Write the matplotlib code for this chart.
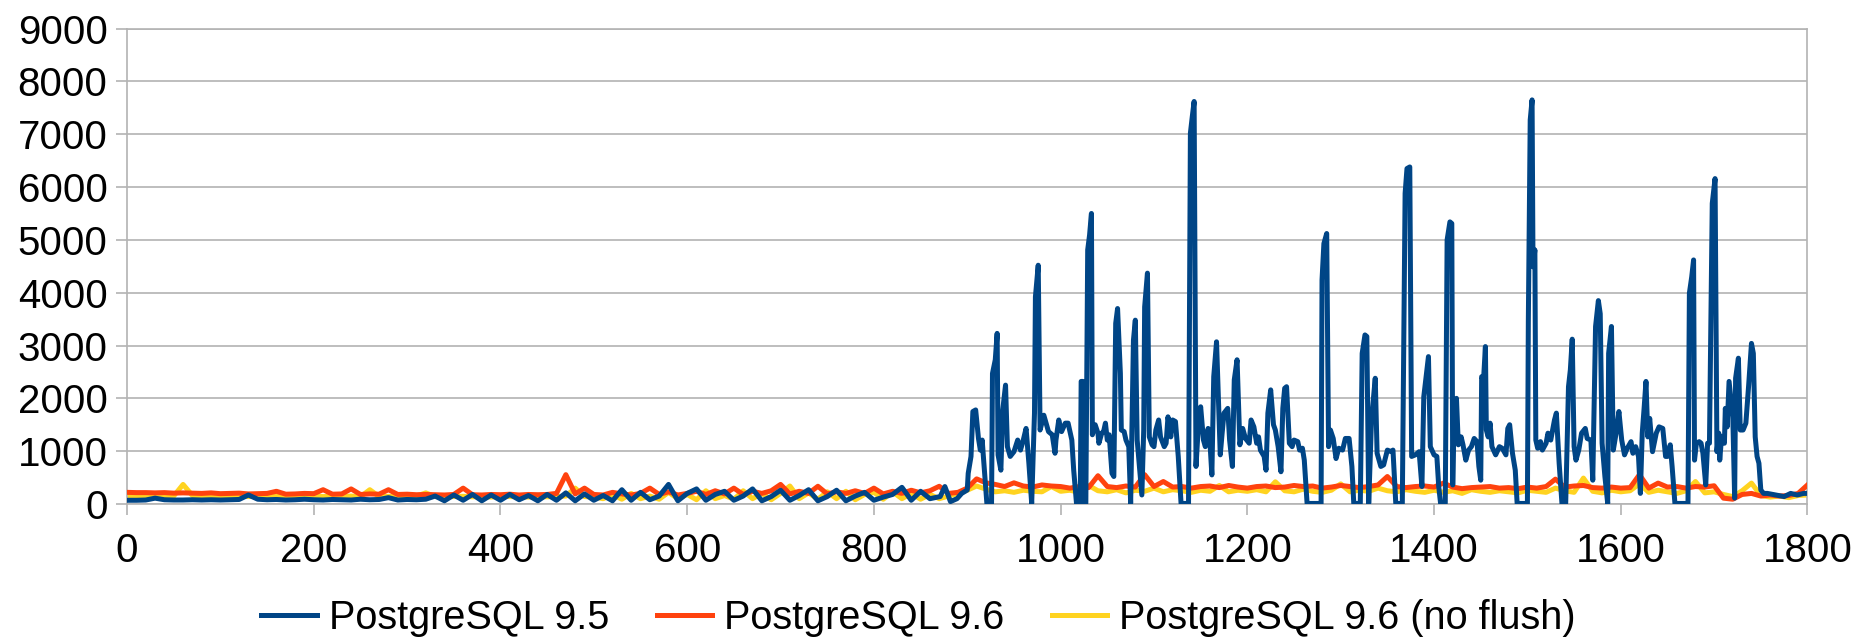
import matplotlib
matplotlib.use("Agg")
import matplotlib.pyplot as plt

plt.rcParams['font.family'] = ['Liberation Sans', 'DejaVu Sans']

# sample step for the orange / yellow series and the quiet part of 9.5
step_x = list(range(0, 1810, 10))

pg96 = [220, 215, 215, 210, 215, 205, 210, 205, 200, 210,
        195, 200, 205, 190, 195, 200, 240, 185, 190, 200,
        195, 270, 185, 190, 285, 180, 190, 185, 270, 180,
        185, 175, 180, 175, 170, 180, 300, 175, 170, 180,
        175, 185, 170, 180, 175, 180, 200, 555, 190, 300,
        180, 170, 220, 190, 170, 200, 300, 180, 230, 170,
        200, 240, 180, 250, 190, 300, 180, 240, 200, 250,
        370, 190, 240, 200, 335, 190, 230, 200, 250, 200,
        300, 190, 240, 200, 260, 210, 250, 335, 200, 220,
        300, 475, 400, 370, 330, 400, 340, 320, 360, 340,
        330, 300, 330, 310, 535, 330, 310, 340, 320, 555,
        330, 425, 320, 330, 300, 330, 340, 310, 350, 320,
        300, 330, 340, 310, 320, 350, 330, 340, 300, 320,
        350, 330, 310, 330, 360, 520, 330, 310, 330, 340,
        320, 395, 320, 290, 310, 320, 330, 300, 310, 290,
        320, 300, 330, 470, 320, 340, 350, 310, 300, 320,
        300, 310, 555, 300, 395, 320, 330, 300, 330, 320,
        345, 110, 90, 180, 200, 150, 170, 150, 160, 200,
        360]

pg96_noflush = [150, 140, 145, 150, 140, 150, 370, 160, 140, 150,
                145, 140, 150, 140, 145, 140, 150, 135, 145, 140,
                150, 140, 145, 140, 150, 135, 270, 140, 145, 135,
                140, 150, 210, 140, 135, 140, 145, 135, 140, 130,
                145, 140, 135, 130, 140, 135, 140, 150, 300, 140,
                130, 100, 180, 90, 200, 100, 150, 90, 220, 100,
                180, 80, 250, 100, 160, 90, 250, 100, 200, 80,
                200, 340, 100, 210, 90, 230, 100, 240, 80, 180,
                220, 90, 230, 100, 200, 90, 180, 100, 150, 200,
                260, 340, 280, 230, 250, 220, 260, 240, 230, 330,
                240, 260, 220, 350, 250, 230, 270, 210, 260, 240,
                300, 230, 270, 250, 220, 260, 240, 350, 230, 260,
                240, 270, 230, 420, 250, 230, 280, 240, 220, 260,
                380, 230, 260, 240, 300, 250, 230, 270, 240, 220,
                260, 220, 250, 200, 270, 240, 220, 250, 230, 210,
                260, 240, 220, 300, 250, 220, 490, 240, 210, 260,
                230, 250, 380, 220, 260, 230, 200, 250, 425, 210,
                230, 180, 140, 250, 395, 160, 130, 150, 120, 160,
                170]

# PostgreSQL 9.5: quiet part (0..860 every 10) then the read-off peaks
pg95_quiet = [70, 70, 75, 110, 80, 75, 75, 80, 75, 80,
              75, 80, 85, 170, 90, 80, 85, 75, 80, 90,
              80, 75, 85, 80, 75, 90, 80, 85, 120, 75,
              85, 80, 90, 150, 60, 170, 70, 180, 60, 170,
              70, 180, 80, 160, 60, 180, 70, 210, 60, 190,
              70, 160, 60, 270, 70, 220, 80, 150, 370, 60,
              200, 285, 70, 180, 240, 70, 150, 285, 60, 140,
              260, 70, 160, 270, 60, 140, 260, 60, 150, 220,
              70, 130, 180, 315, 70, 240, 100]

pg95_x = [871, 876, 882, 889, 894, 900, 901, 904, 906, 909, 912, 914, 916, 917, 921, 926, 927, 930, 932, 933,
          936, 938, 941, 943, 946, 950, 954, 957, 960, 963, 966, 969, 972, 973, 976, 978, 982,
          987, 991, 994, 995, 998, 1001, 1005, 1008, 1012, 1014, 1017, 1021, 1022, 1024, 1026, 1027, 1029, 1031,
          1033, 1034, 1037, 1040, 1041, 1044, 1046, 1048, 1050, 1052, 1055, 1057, 1059, 1061, 1064, 1065, 1068,
          1070, 1073, 1075, 1078, 1080, 1082, 1085, 1087, 1089, 1090, 1093, 1095, 1098, 1100, 1102, 1105, 1107,
          1111, 1113, 1115, 1118, 1120, 1123, 1126, 1129, 1137, 1139, 1141, 1143, 1145, 1148, 1150, 1153, 1155,
          1158, 1160, 1162, 1164, 1167, 1170, 1171, 1173, 1175, 1179, 1181, 1184, 1186, 1189, 1192, 1195, 1198,
          1202, 1204, 1207, 1210, 1212, 1214, 1218, 1220, 1222, 1225, 1228, 1230, 1233, 1236, 1238, 1240, 1242,
          1245, 1248, 1250, 1254, 1256, 1259, 1261, 1264, 1279, 1280, 1282, 1285, 1287, 1289, 1292, 1295, 1298,
          1302, 1305, 1309, 1312, 1314, 1321, 1323, 1326, 1328, 1330, 1333, 1337, 1339, 1343, 1346, 1350, 1354,
          1356, 1359, 1366, 1369, 1371, 1374, 1376, 1380, 1384, 1387, 1389, 1394, 1396, 1400,
          1403, 1405, 1407, 1412, 1414, 1417, 1419, 1420, 1421, 1424, 1426, 1429, 1431, 1434, 1437, 1440, 1443,
          1446, 1448, 1450, 1451, 1453, 1455, 1456, 1458, 1460, 1462, 1466, 1470, 1473, 1477, 1479, 1481, 1484,
          1487, 1489, 1500, 1501, 1503, 1505, 1506, 1508, 1509, 1511, 1514, 1516, 1520, 1522, 1525, 1529, 1531,
          1534, 1537, 1541, 1544, 1546, 1548, 1550, 1552, 1555, 1558, 1562, 1564, 1568, 1570, 1573, 1576, 1578,
          1580, 1583, 1586, 1587, 1590, 1592, 1595, 1598, 1601, 1604, 1607,
          1611, 1613, 1616, 1619, 1621, 1623, 1625, 1627, 1629, 1631, 1634, 1638, 1641, 1645, 1648, 1650, 1653,
          1655, 1658, 1672, 1673.5, 1676, 1678, 1679, 1681, 1684, 1686, 1688, 1691, 1693, 1695, 1698, 1701, 1703,
          1705, 1706, 1708, 1711, 1712, 1714, 1716, 1720, 1722, 1723, 1726, 1728, 1731, 1734, 1737, 1740, 1742,
          1744, 1746, 1748, 1750, 1753, 1757, 1766, 1775, 1782, 1789, 1796, 1800]

pg95_y = [140, 330, 45, 100, 200, 265, 580, 900, 1750, 1780, 1240, 1020, 1210, 960, 10, 10, 2470, 2730, 3230, 930,
          640, 1780, 2250, 1085, 900, 990, 1210, 1020, 1210, 1430, 770, 10, 1720, 3920, 4520, 1400, 1680,
          1370, 1310, 960, 1210, 1590, 1370, 1530, 1530, 1210, 640, 10, 10, 2320, 2320, 10, 10, 4810, 5090,
          5500, 1310, 1500, 1340, 1150, 1340, 1370, 1530, 1210, 1310, 580, 520, 3420, 3700, 2470, 1400, 1370,
          1210, 1085, 10, 3100, 3480, 1210, 580, 170, 1400, 3730, 4370, 1270, 1120, 1085, 1400, 1590, 1270,
          1085, 1150, 1650, 1270, 1590, 1560, 900, 10, 10, 7020, 7330, 7620, 710, 1620, 1840, 1210, 1085,
          1430, 1150, 550, 2410, 3070, 1460, 930, 1340, 1720, 1810, 1210, 710, 2350, 2730, 1120, 1430, 1240,
          1150, 1590, 1460, 1150, 1270, 1020, 900, 640, 1720, 2160, 1500, 1400, 1085, 610, 1810, 2190, 2220,
          1150, 1085, 1210, 1180, 1020, 1055, 830, 10, 10, 4240, 4930, 5120, 1085, 1400, 1240, 860, 1055,
          1020, 1240, 1240, 710, 10, 10, 2850, 3200, 3170, 10, 1590, 2380, 960, 710, 740, 1020, 990,
          1020, 10, 10, 5880, 6350, 6380, 900, 930, 990, 330, 2030, 2790, 1085, 930,
          900, 330, 10, 10, 5000, 5340, 5310, 360, 1270, 2000, 1120, 1270, 1120, 830, 1020, 1085, 1240,
          1180, 710, 450, 2410, 2350, 2980, 1400, 1270, 1530, 1085, 930, 1085, 1055, 930, 1430, 1500, 960,
          640, 10, 10, 3480, 7270, 7650, 4490, 4810, 1210, 1055, 1180, 1020, 1150, 1340, 1210, 1590, 1720,
          770, 10, 10, 2220, 2540, 3120, 1085, 830, 1020, 1340, 1430, 1240, 1210, 450, 3360, 3850, 3600,
          1150, 520, 10, 2850, 3360, 1020, 1340, 1750, 1210, 930, 1055,
          1180, 960, 1085, 900, 200, 1340, 1810, 2320, 1270, 1620, 990, 1340, 1460, 1430, 900, 900, 1120,
          710, 10, 10, 3990, 4300, 4620, 830, 1150, 1180, 1150, 960, 360, 1150, 1150, 5690, 6160, 990,
          1340, 830, 1270, 1150, 1810, 1460, 2320, 1650, 110, 2380, 2760, 1400, 1400, 1530, 2250, 3040, 2850,
          1270, 900, 770, 265, 200, 200, 170, 140, 200, 170, 200, 200]

labels = ['PostgreSQL 9.5', 'PostgreSQL 9.6', 'PostgreSQL 9.6 (no flush)']
colors = ['#004586', '#ff420e', '#ffd320']

blue_x = step_x[:len(pg95_quiet)] + pg95_x
blue_y = pg95_quiet + pg95_y

fig = plt.figure(figsize=(18.63, 6.42), dpi=100)
ax = fig.add_axes([0.0682, 0.215, 0.902, 0.7405])

l3, = ax.plot(step_x, pg96_noflush, color=colors[2], lw=3.6, solid_joinstyle='round', zorder=2)
l2, = ax.plot(step_x, pg96, color=colors[1], lw=3.6, solid_joinstyle='round', zorder=3)
l1, = ax.plot(blue_x, blue_y, color=colors[0], lw=3.6, solid_joinstyle='round', zorder=4)

ax.set_xlim(0, 1800)
ax.set_ylim(0, 9000)
ax.set_xticks(range(0, 1801, 200))
ax.set_yticks(range(0, 9001, 1000))
ax.grid(axis='y', color='#b3b3b3', lw=1.2)
ax.set_axisbelow(True)
for s in ax.spines.values():
    s.set_color('#b3b3b3')
    s.set_linewidth(1.2)
ax.tick_params(axis='both', colors='#b3b3b3', labelcolor='black', labelsize=29,
               length=8, width=1.2, direction='out')
ax.tick_params(axis='y', pad=6)
ax.tick_params(axis='x', pad=12)

fig.legend([l1, l2, l3], labels, loc='center', bbox_to_anchor=(0.493, 0.037), ncol=3,
           frameon=False, fontsize=28.5, handlelength=1.4, handletextpad=0.3, columnspacing=1.2)

fig.savefig('out.png', dpi=100)
